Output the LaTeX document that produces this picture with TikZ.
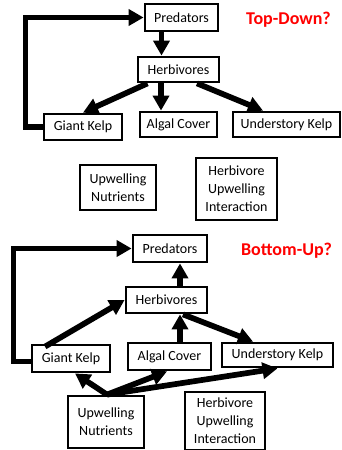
\documentclass[tikz,border=0pt]{standalone}
\usepackage{fontspec}
\setmainfont{Carlito}
\usetikzlibrary{arrows.meta}
\begin{document}
\begin{tikzpicture}[x=1pt,y=-1pt,
  box/.style={draw=black,line width=2.8pt,fill=white,font=\fontsize{14}{18}\selectfont,
    inner sep=0pt,align=center,minimum height=26pt},
  link/.style={line width=5.7pt,line join=miter,
    -{Triangle[length=15pt,width=16pt]}},
  heading/.style={font=\fontsize{18}{20}\selectfont\bfseries,text=red,inner sep=0pt}]
\useasboundingbox (0,0) rectangle (341,450);

% ---- top-down web ----
\node[box,minimum width=73pt,minimum height=27pt] (predT) at (181.5,17.5) {Predators};
\node[heading] (titleT) at (288.5,20) {Top-Down?};
\node[box,minimum width=81pt,minimum height=25pt] (herbT) at (178.5,69.5) {Herbivores};
\node[box,minimum width=78pt] (giantT) at (83,127) {Giant Kelp};
\node[box,minimum width=77pt,minimum height=25pt] (algalT) at (178.5,124.5) {Algal Cover};
\node[box,minimum width=107pt,minimum height=25pt] (underT) at (286.5,124.5) {Understory Kelp};

\draw[link] ([xshift=-20pt]predT.south) -- ([xshift=-20pt]predT.south |- herbT.north);
\draw[link] ([xshift=-31pt]herbT.south) -- (giantT.north);
\draw[link] ([xshift=-17.5pt]herbT.south) -- ([xshift=-17.5pt]algalT.north);
\draw[link] ([xshift=18.5pt]herbT.south) -- ([xshift=-23.5pt]underT.north);
\draw[link] (giantT.west) -- ++(-17,0) |- (predT.west);

% ---- unconnected boxes ----
\node[box,minimum width=76pt,minimum height=45pt] (upM) at (118,187.5) {Upwelling\\Nutrients};
\node[box,minimum width=81pt,minimum height=62pt] (interM) at (236.5,189) {Herbivore\\Upwelling\\Interaction};

% ---- bottom-up web ----
\node[box,minimum width=74pt,minimum height=27pt] (predB) at (170,248.5) {Predators};
\node[heading] (titleB) at (286.5,251) {Bottom-Up?};
\node[box,minimum width=81pt] (herbB) at (166.5,300) {Herbivores};
\node[box,minimum width=78pt,minimum height=27pt] (giantB) at (71,358.5) {Giant Kelp};
\node[box,minimum width=83pt,minimum height=27pt] (algalB) at (169.5,356.5) {Algal Cover};
\node[box,minimum width=111pt,minimum height=24pt] (underB) at (277.5,355) {Understory Kelp};
\node[box,minimum width=76pt,minimum height=52pt] (upB) at (106,422) {Upwelling\\Nutrients};
\node[box,minimum width=80pt,minimum height=58pt] (interB) at (225,421) {Herbivore\\Upwelling\\Interaction};

\draw[link] ([xshift=13.5pt]herbB.north) -- ([xshift=13.5pt]herbB.north |- predB.south);
\draw[link] ([xshift=-26pt,yshift=-3pt]giantB.north) -- (herbB.west);
\draw[link] ([xshift=10.5pt]algalB.north) -- ([xshift=10.5pt]algalB.north |- herbB.south);
\draw[link] ([xshift=16.5pt]herbB.south) -- ([xshift=-24.5pt]underB.north);
\draw[link] ([yshift=-3pt]giantB.west) -- ++(-17,0) |- (predB.west);
\draw[link] ([xshift=1pt]upB.north) -- ([xshift=4pt]giantB.south);
\draw[link] ([xshift=1pt]upB.north) -- ([xshift=-2.5pt]algalB.south);
\draw[link] ([xshift=1pt]upB.north) -- (underB.south);
\end{tikzpicture}
\end{document}
